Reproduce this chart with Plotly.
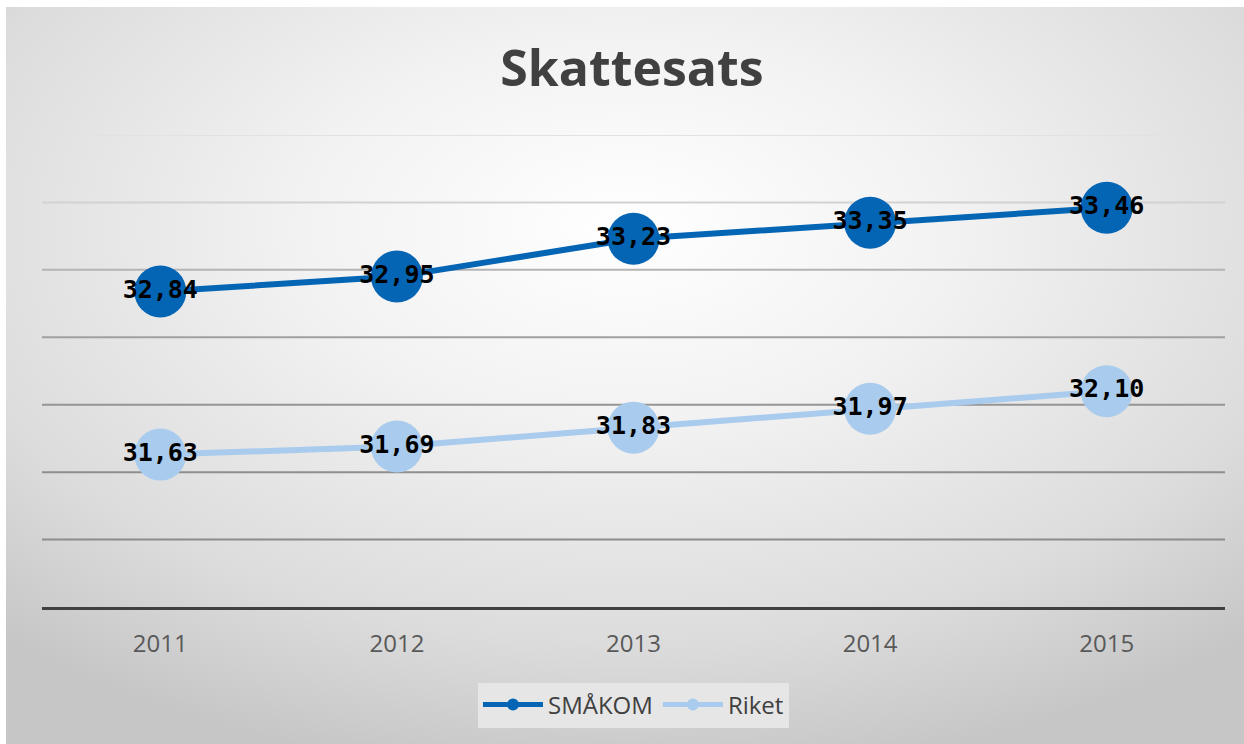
import plotly.graph_objects as go
import base64

years = ["2011", "2012", "2013", "2014", "2015"]
smakom = [32.84, 32.95, 33.23, 33.35, 33.46]
riket = [31.63, 31.69, 31.83, 31.97, 32.10]
series_names = ["SMÅKOM", "Riket"]
title_text = "Skattesats"

grid_values = [31.0, 31.5, 32.0, 32.5, 33.0, 33.5, 34.0]
grid_colors = ["#8c8c8c", "#8e8e8e", "#959595", "#a0a0a0", "#b4b4b4", "#d2d2d2", "#e2e2e2"]

def fmt(v):
    return f"{v:.2f}".replace(".", ",")

W, H = 1244, 744
L, R, T, B = 42, 19, 135, 137
pw, ph = W - L - R, H - T - B

svg = f'''<svg xmlns="http://www.w3.org/2000/svg" width="{W}" height="{H}" viewBox="0 0 {W} {H}">
<defs><radialGradient id="g" cx="0.5" cy="0.3" r="0.75" gradientUnits="objectBoundingBox">
<stop offset="0" stop-color="#ffffff"/>
<stop offset="0.35" stop-color="#f2f2f2"/>
<stop offset="0.75" stop-color="#dcdcdc"/>
<stop offset="1" stop-color="#c6c6c6"/>
</radialGradient></defs>
<rect x="0" y="0" width="{W}" height="{H}" fill="#ffffff"/>
<rect x="6" y="7" width="{W-6}" height="{H-7}" fill="url(#g)"/>
</svg>'''
bg_uri = "data:image/svg+xml;base64," + base64.b64encode(svg.encode()).decode()

label_font = dict(family="DejaVu Sans Mono", size=25, color="#000000", weight="bold")

fig = go.Figure()
fig.add_trace(go.Scatter(
    x=years, y=smakom, name=series_names[0], mode="lines+markers+text",
    line=dict(color="#0565b5", width=6),
    marker=dict(color="#0565b5", size=52),
    text=[fmt(v) for v in smakom], textposition="middle center",
    textfont=label_font, cliponaxis=False,
))
fig.add_trace(go.Scatter(
    x=years, y=riket, name=series_names[1], mode="lines+markers+text",
    line=dict(color="#a9cbed", width=6),
    marker=dict(color="#a9cbed", size=52),
    text=[fmt(v) for v in riket], textposition="middle center",
    textfont=label_font, cliponaxis=False,
))

shapes = []
for v, c in zip(grid_values, grid_colors):
    shapes.append(dict(type="line", xref="paper", yref="y", x0=0, x1=1, y0=v, y1=v,
                       line=dict(color=c, width=2), layer="below"))

fig.update_layout(
    width=W, height=H,
    margin=dict(l=L, r=R, t=T, b=B),
    paper_bgcolor="#ffffff",
    plot_bgcolor="rgba(0,0,0,0)",
    title=dict(text=title_text, x=0.508, xanchor="center", y=1 - 68 / H, yanchor="middle",
               font=dict(family="Open Sans", size=50, color="#404040", weight="bold")),
    xaxis=dict(type="category", range=[-0.5, 4.5], showgrid=False, zeroline=False,
               showline=True, linecolor="#404040", linewidth=3, ticks="",
               tickfont=dict(family="Open Sans", size=24, color="#595959"),
               ticklabelstandoff=13),
    yaxis=dict(range=[30.5, 34], showgrid=False, zeroline=False, showticklabels=False,
               showline=False, ticks=""),
    legend=dict(orientation="h", x=0.5, xanchor="center", y=-(705 - 607) / ph, yanchor="middle",
                bgcolor="#e6e6e6", font=dict(family="Open Sans", size=24, color="#404040"),
                itemsizing="constant", itemwidth=60, borderwidth=0),
    showlegend=True,
    shapes=shapes,
    images=[dict(source=bg_uri, xref="paper", yref="paper",
                 x=-L / pw, y=1 + T / ph, sizex=W / pw, sizey=H / ph,
                 xanchor="left", yanchor="top", sizing="stretch", layer="below")],
)

fig.write_html("out.html", config={"displayModeBar": False},
               post_script="document.body.style.margin='0';")
